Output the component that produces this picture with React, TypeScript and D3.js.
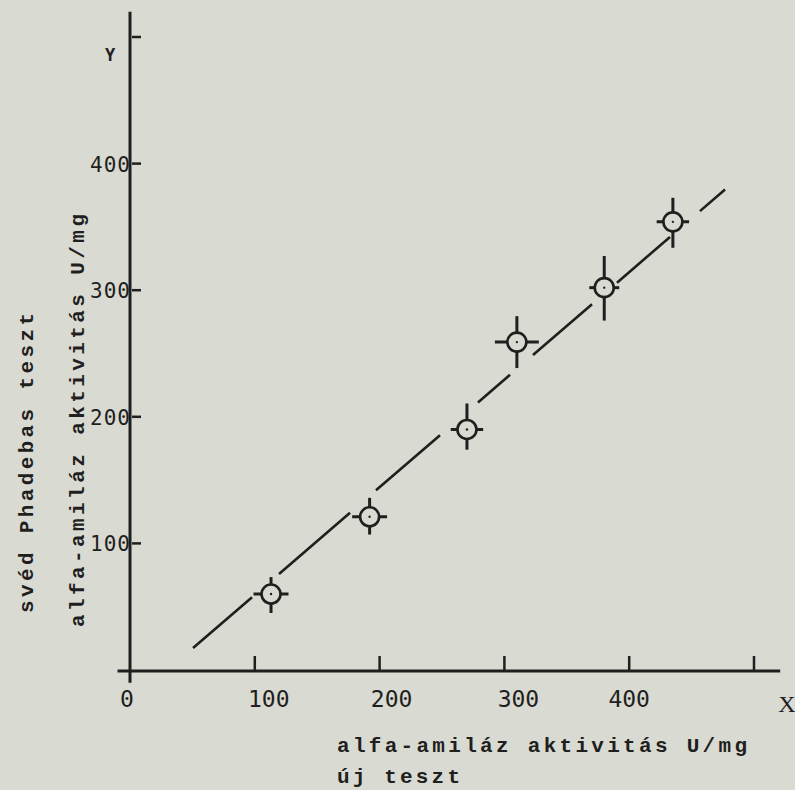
import React from "react";
import * as d3 from "d3";

// ---- data ----
const pointX = [113, 192, 270, 310, 380, 435];
const pointY = [60, 121, 190, 259, 302, 354];
const xErr = [14, 14, 13, 17.6, 12, 13];
const yErrUp = [13.4, 15, 20.5, 20.5, 25, 19];
const yErrDown = [15, 14, 16, 20.5, 26, 20.5];

const fitSlope = 0.8496;
const fitIntercept = -25.55;
// visible pieces of the drawn regression line (x ranges, data units)
const fitPieces: [number, number][] = [
  [50.5, 97.8],
  [119.4, 176.3],
  [197.1, 248.4],
  [278.8, 304.5],
  [322.9, 370.2],
  [390.2, 432.7],
  [456.7, 476.8],
];

const xTickValues = [100, 200, 300, 400, 500];
const xLabelValues = [0, 100, 200, 300, 400];
const xLabelTexts = ["0", "100", "200", "300", "400"];
const yTickValues = [100, 200, 300, 400, 500];
const yLabelValues = [100, 200, 300, 400];
const yLabelTexts = ["100", "200", "300", "400"];

const xTitle = "alfa-amiláz aktivitás U/mg";
const xSubTitle = "új teszt";
const yTitle1 = "svéd Phadebas teszt";
const yTitle2 = "alfa-amiláz aktivitás U/mg";

// ---- layout ----
const W = 795;
const H = 790;
const BG = "#d9dad1";
const INK = "#1f1f1f";
const xLabelNudge = [-3, 14, 12, 14, 0];

export default function App() {
  const x = d3.scaleLinear().domain([0, 500]).range([130, 754]);
  const y = d3.scaleLinear().domain([0, 500]).range([670, 37]);

  const line = d3
    .line<number>()
    .x((v) => x(v))
    .y((v) => y(fitSlope * v + fitIntercept));

  const mono = "'DejaVu Sans Mono', monospace";
  const type = "'Liberation Mono', 'DejaVu Sans Mono', monospace";

  return (
    <svg
      width={W}
      height={H}
      style={{ position: "fixed", left: 0, top: 0, background: BG }}
    >
      <rect x={0} y={0} width={W} height={H} fill={BG} />

      {/* axes */}
      <line x1={x(-10)} x2={x(521)} y1={y(0) + 1} y2={y(0) + 1} stroke={INK} strokeWidth={3} />
      <line x1={x(0)} x2={x(0)} y1={y(-10)} y2={y(520)} stroke={INK} strokeWidth={3} />

      {xTickValues.map((v) => (
        <line key={"xt" + v} x1={x(v)} x2={x(v)} y1={y(0) - 14} y2={y(0)} stroke={INK} strokeWidth={2.5} />
      ))}
      {yTickValues.map((v) => (
        <line key={"yt" + v} x1={x(0) + 2} x2={x(0) + 11} y1={y(v)} y2={y(v)} stroke={INK} strokeWidth={2.5} />
      ))}

      {xLabelValues.map((v, i) => (
        <text
          key={"xl" + v}
          x={x(v) + xLabelNudge[i]}
          y={707}
          textAnchor="middle"
          fontFamily={mono}
          fontSize={23}
          fill={INK}
        >
          {xLabelTexts[i]}
        </text>
      ))}
      {yLabelValues.map((v, i) => (
        <text
          key={"yl" + v}
          x={x(0) + 1}
          y={y(v) + 8}
          textAnchor="end"
          fontFamily={mono}
          fontSize={21}
          letterSpacing={1}
          fill={INK}
        >
          {yLabelTexts[i]}
        </text>
      ))}

      <text x={787} y={712} textAnchor="middle" fontFamily="'Liberation Serif', serif" fontSize={24} fill={INK}>
        X
      </text>
      <text x={110} y={61} textAnchor="middle" fontFamily={mono} fontSize={17} fontWeight="bold" fill={INK}>
        Y
      </text>

      {/* regression line pieces */}
      {fitPieces.map(([a, b], i) => (
        <path key={"f" + i} d={line([a, b]) || ""} fill="none" stroke={INK} strokeWidth={2.6} />
      ))}

      {/* points with crosshair error bars */}
      {pointX.map((px, i) => (
        <g key={"p" + i}>
          <line x1={x(px - xErr[i])} x2={x(px + xErr[i])} y1={y(pointY[i])} y2={y(pointY[i])} stroke={INK} strokeWidth={3} />
          <line x1={x(px)} x2={x(px)} y1={y(pointY[i] + yErrUp[i])} y2={y(pointY[i] - yErrDown[i])} stroke={INK} strokeWidth={3} />
          <circle cx={x(px)} cy={y(pointY[i])} r={9.5} fill={BG} stroke={INK} strokeWidth={2.6} />
          <circle cx={x(px)} cy={y(pointY[i])} r={1.2} fill={INK} />
        </g>
      ))}

      {/* axis titles */}
      <text x={337} y={752} fontFamily={type} fontSize={21} fontWeight="bold" fill={INK} textLength={410} lengthAdjust="spacing">
        {xTitle}
      </text>
      <text x={337} y={783} fontFamily={type} fontSize={21} fontWeight="bold" fill={INK} textLength={123} lengthAdjust="spacing">
        {xSubTitle}
      </text>
      <text
        transform={`translate(33,613) rotate(-90)`}
        fontFamily={type}
        fontSize={21}
        fontWeight="bold"
        fill={INK}
        textLength={300}
        lengthAdjust="spacing"
      >
        {yTitle1}
      </text>
      <text
        transform={`translate(84,627) rotate(-90)`}
        fontFamily={type}
        fontSize={21}
        fontWeight="bold"
        fill={INK}
        textLength={413}
        lengthAdjust="spacing"
      >
        {yTitle2}
      </text>
    </svg>
  );
}
